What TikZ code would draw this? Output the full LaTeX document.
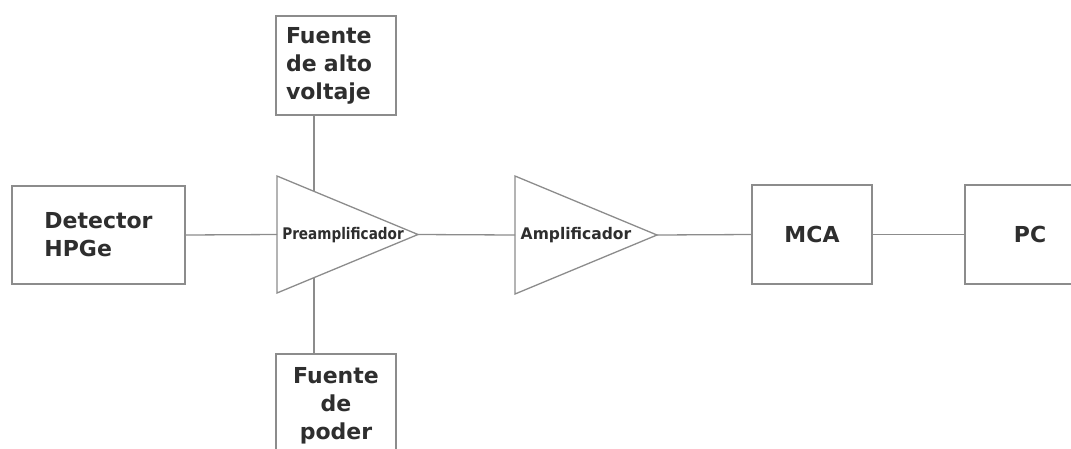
\documentclass[tikz,border=0pt]{standalone}
\usepackage{fontspec}
\setmainfont{DejaVu Sans}
\usetikzlibrary{calc}
\definecolor{linegray}{HTML}{8C8C8C}
\definecolor{textgray}{HTML}{2E2E2E}
\tikzset{
 blk/.style={draw=linegray, line width=1.5pt, fill=white, text=textgray, font=\bfseries\fontsize{22}{28}\selectfont, inner sep=0pt},
 wire/.style={draw=linegray, line width=1.3pt},
 amp/.style={draw=linegray, line width=1.3pt, fill=white, line join=miter},
 amplabel/.style={text=textgray, font=\bfseries\fontsize{16}{18}\selectfont, inner sep=0pt},
}
\begin{document}
\begin{tikzpicture}[x=1pt,y=-1pt]
\useasboundingbox (0,0) rectangle (1071,448);
% boxes
\node[blk, minimum width=173pt, minimum height=98pt, align=left] (det) at (98.5,235) {Detector\\HPGe};
\node[blk, minimum width=120pt, minimum height=99pt, text width=100pt, align=left] (hv) at (336,65.5) {Fuente\\de alto\\voltaje};
\node[blk, minimum width=120pt, minimum height=104pt, align=center] (pw) at (336,406) {Fuente\\de\\poder};
\node[blk, minimum width=120pt, minimum height=99pt] (mca) at (812,234.5) {MCA};
\node[blk, minimum width=130pt, minimum height=99pt] (pc) at (1030,234.5) {PC};
% preamplifier triangle
\coordinate (preT) at (277,176);
\coordinate (preB) at (277,293);
\coordinate (preA) at (418,234.5);
\coordinate (preIn) at (277,234.5);
\draw[amp] (preT) -- (preA) -- (preB) -- cycle;
\node[amplabel] (prelbl) at (343,235) {\scalebox{0.85}[1]{Preamplificador}};
% amplifier triangle
\coordinate (ampT) at (515,176);
\coordinate (ampB) at (515,294);
\coordinate (ampA) at (657,235);
\coordinate (ampIn) at (515,235);
\draw[amp] (ampT) -- (ampA) -- (ampB) -- cycle;
\node[amplabel] (amplbl) at (576,235) {\scalebox{0.97}[1]{Amplificador}};
% joins on preamplifier edges
\coordinate (preTopJoin) at ($(preT)!0.2624!(preA)$);
\coordinate (preBotJoin) at ($(preB)!0.2624!(preA)$);
% wires
\draw[wire] (det.east) -- (preIn);
\draw[wire] (preA) -- (ampIn);
\draw[wire] (ampA) -- (mca.west);
\draw[wire] (mca.east) -- (pc.west);
\draw[wire] (hv.south -| preTopJoin) -- (preTopJoin);
\draw[wire] (preBotJoin) -- (pw.north -| preBotJoin);
\end{tikzpicture}
\end{document}
